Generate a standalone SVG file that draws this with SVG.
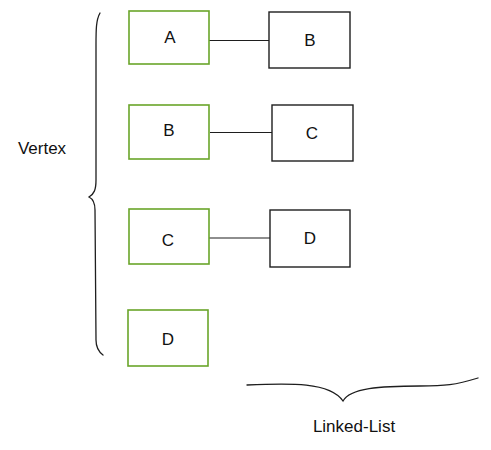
<svg xmlns="http://www.w3.org/2000/svg" width="491" height="450" viewBox="0 0 491 450">
<style>
.g{fill:#fff;stroke:#6aa52a;stroke-width:1.6}
.k{fill:#fff;stroke:#1e1e1e;stroke-width:1.4}
.t{font-family:"Liberation Sans",Arial,sans-serif;font-size:17px;fill:#111;text-anchor:middle;dominant-baseline:central}
.c{stroke:#1e1e1e;stroke-width:1.2;fill:none}
.br{stroke:#1e1e1e;stroke-width:1.3;fill:none;stroke-linecap:round}
</style>
<rect width="491" height="450" fill="#fff"/>
<g id="connectors">
<path class="c" d="M209 40.5 L269 40.5"/>
<path class="c" d="M210 132.5 L272 132.5"/>
<path class="c" d="M209 238 L270 238"/>
</g>
<g id="vA"><rect class="g" x="129" y="11" width="80" height="53"/><text class="t" x="170" y="37">A</text></g>
<g id="vB"><rect class="g" x="129" y="105" width="80" height="54"/><text class="t" x="169" y="130">B</text></g>
<g id="vC"><rect class="g" x="129" y="209" width="80" height="55"/><text class="t" x="168" y="240">C</text></g>
<g id="vD"><rect class="g" x="128" y="310" width="80" height="56"/><text class="t" x="168" y="339">D</text></g>
<g id="lB"><rect class="k" x="269" y="12" width="81" height="56"/><text class="t" x="310" y="40">B</text></g>
<g id="lC"><rect class="k" x="272" y="105" width="81" height="56"/><text class="t" x="312" y="133">C</text></g>
<g id="lD"><rect class="k" x="270" y="210" width="80" height="57"/><text class="t" x="310" y="238">D</text></g>
<g id="vertexBrace">
<path class="br" d="M100 13 C96 20 96 30 96 45 L96 180 C96 190 94 194 89 197 C93 199 95 203 95 210 L96 340 C96 347 99 352 103 355"/>
<text class="t" x="42" y="148">Vertex</text>
</g>
<g id="listBrace">
<path class="br" d="M247 385 C290 383 330 382 343 401 C350 388 380 386 420 386 C445 386 455 385 478 378"/>
<text class="t" x="354" y="426">Linked-List</text>
</g>
</svg>
